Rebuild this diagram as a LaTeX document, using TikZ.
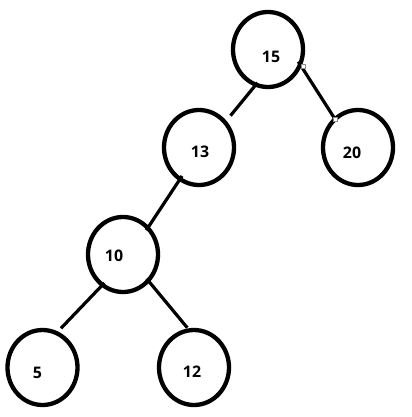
\documentclass[tikz,border=0pt]{standalone}
\usepackage{fontspec}
\setsansfont{Open Sans}
\usetikzlibrary{shapes.geometric, calc}

\begin{document}
\begin{tikzpicture}[
    x=0.03cm, y=-0.03cm,
    % ── shared styles ───────────────────────────────────────────────
    vertex/.style={
        ellipse, draw=black, line width=4.3*0.03cm,
        minimum width=2.1cm, minimum height=2.25cm,
        inner sep=0pt, outer sep=0pt,
    },
    num/.style={
        font=\sffamily\bfseries\fontsize{13.6}{16}\selectfont,
        text=black, inner sep=0pt,
    },
    edge/.style={
        draw=black, line width=3.2*0.03cm,
    },
    handle/.style={
        rectangle, fill=white, draw=black!45, line width=0.4pt,
        inner sep=0pt, minimum size=3.6*0.03cm,
    },
]
\useasboundingbox (0,0) rectangle (411,417);

% =============================================================
%  VERTICES
% =============================================================
\node[vertex] (n15) at (268,49.5) {};
\node[vertex] (n13) at (199,147.5) {};
\node[vertex] (n20) at (358,147.5) {};
\node[vertex] (n10) at (123,254.5) {};
\node[vertex] (n5)  at (42.5,367.5) {};
\node[vertex] (n12) at (194,367.5) {};

% Keys
\node[num] (t15) at (271,57)    {15};
\node[num] (t13) at (200,151.5) {13};
\node[num] (t20) at (352,153)   {20};
\node[num] (t10) at (114,256)   {10};
\node[num] (t5)  at (37.5,373)  {5};
\node[num] (t12) at (192,372)   {12};

% =============================================================
%  EDGES
% =============================================================
\draw[edge, shorten <=-0.075cm, shorten >=0.26cm] (n15.251) -- (n13.44.5);
\draw[edge, shorten <=-0.1cm] (n15.335) -- (n20.129);
\draw[edge, shorten <=-0.11cm, shorten >=-0.08cm] (n13.239) -- (n10.47);
\draw[edge, shorten <=-0.08cm, shorten >=0.2cm] (n10.236) -- (n5.68);
\draw[edge, shorten <=-0.07cm, shorten >=0.1cm] (n10.314.5) -- (n12.97);

% Line handles
\node[handle] (h1) at (303,66) {};
\node[handle] (h2) at (335,119) {};

\end{tikzpicture}
\end{document}
